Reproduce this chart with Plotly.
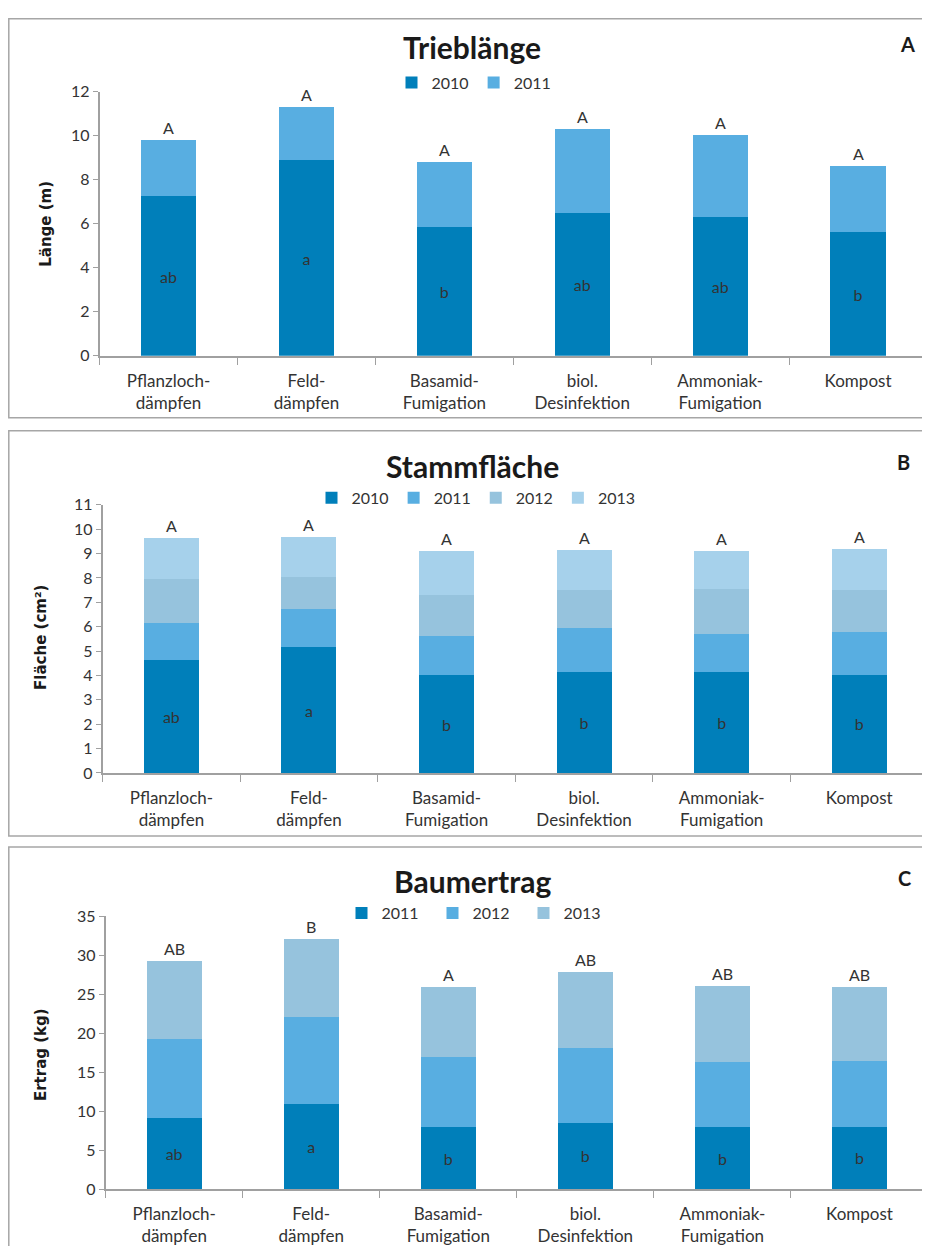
import plotly.graph_objects as go

categories = ["Pflanzloch-<br>dämpfen", "Feld-<br>dämpfen", "Basamid-<br>Fumigation",
              "biol.<br>Desinfektion", "Ammoniak-<br>Fumigation", "Kompost"]

# Panel A: Trieblänge (m)
a_2010 = [7.25, 8.88, 5.84, 6.49, 6.33, 5.61]
a_2011 = [2.55, 2.42, 2.96, 3.81, 3.72, 3.01]
a_lower = ["ab", "a", "b", "ab", "ab", "b"]
a_upper = ["A", "A", "A", "A", "A", "A"]

# Panel B: Stammfläche (cm²)
b_2010 = [4.63, 5.16, 4.00, 4.15, 4.14, 4.02]
b_2011 = [1.54, 1.55, 1.64, 1.78, 1.58, 1.75]
b_2012 = [1.77, 1.35, 1.66, 1.57, 1.82, 1.72]
b_2013 = [1.69, 1.61, 1.80, 1.64, 1.56, 1.68]
b_lower = ["ab", "a", "b", "b", "b", "b"]
b_upper = ["A", "A", "A", "A", "A", "A"]

# Panel C: Baumertrag (kg)
c_2011 = [9.1, 10.9, 7.9, 8.5, 7.9, 8.0]
c_2012 = [10.1, 11.1, 9.0, 9.6, 8.45, 8.4]
c_2013 = [10.05, 10.05, 8.95, 9.7, 9.7, 9.5]
c_lower = ["ab", "a", "b", "b", "b", "b"]
c_upper = ["AB", "B", "A", "AB", "AB", "AB"]

C_DARK = "#007FBA"
C_MID = "#58AEE1"
C_GREY = "#96C3DD"
C_LIGHT = "#A6D1EB"

# page placement calibration (body margin / screenshot scaling)
OX, OY, SY = 8, 18.6, 0.9844
W, H = 922, 1248
FONT = "Lato, 'Open Sans', sans-serif"
TXT = "#333333"

fig = go.Figure()

panels = [
    dict(ax="", leg="legend", series=[("2010", a_2010, C_DARK), ("2011", a_2011, C_MID)],
         lower=a_lower, upper=a_upper, yr=[0, 12], dtick=2,
         xpx=(99.6, 927), ypx=(356, 92), title="Trieblänge", letter="A",
         title_y=47, letter_xy=(907, 44), ytitle="Länge (m)", ytitle_xy=(46, 224),
         leg_x=474, leg_y=83, entryw=None),
    dict(ax="2", leg="legend2", series=[("2010", b_2010, C_DARK), ("2011", b_2011, C_MID),
                                        ("2012", b_2012, C_GREY), ("2013", b_2013, C_LIGHT)],
         lower=b_lower, upper=b_upper, yr=[0, 11], dtick=1,
         xpx=(102.6, 928), ypx=(773, 505), title="Stammfläche", letter="B",
         title_y=466, letter_xy=(903, 462), ytitle="Fläche (cm²)", ytitle_xy=(41, 638),
         leg_x=476, leg_y=498, entryw=None),
    dict(ax="3", leg="legend3", series=[("2011", c_2011, C_DARK), ("2012", c_2012, C_MID),
                                        ("2013", c_2013, C_GREY)],
         lower=c_lower, upper=c_upper, yr=[0, 35], dtick=5,
         xpx=(105.6, 928), ypx=(1189, 916), title="Baumertrag", letter="C",
         title_y=881, letter_xy=(904, 878), ytitle="Ertrag (kg)", ytitle_xy=(41, 1055),
         leg_x=478, leg_y=913, entryw=46),
]

def fx(t):
    return t - OX

def fy(t):
    return t / SY - OY

def px_x(t):
    return fx(t) / W

def px_y(t):
    return 1 - fy(t) / H

annotations = []
shapes = []
layout_upd = {}

for p in panels:
    xa = "x" + p["ax"]
    ya = "y" + p["ax"]
    totals = [0.0] * len(categories)
    for i, (name, vals, col) in enumerate(p["series"]):
        kw = {}
        if i == 0:
            kw = dict(text=p["lower"], textposition="inside", insidetextanchor="middle",
                      textangle=0, textfont=dict(size=16, color=TXT, family=FONT))
        fig.add_trace(go.Bar(x=categories, y=vals, name=name, marker=dict(color=col, line=dict(width=0)),
                             xaxis=xa, yaxis=ya, legend=p["leg"], hoverinfo="skip", **kw))
        totals = [t + v for t, v in zip(totals, vals)]
    for c, t, u in zip(categories, totals, p["upper"]):
        annotations.append(dict(x=c, y=t, xref=xa, yref=ya, text=u, showarrow=False,
                                xanchor="center", yanchor="bottom", yshift=1,
                                font=dict(size=16, color=TXT, family=FONT)))
    key = p["ax"]
    layout_upd["xaxis" + key] = dict(
        domain=[px_x(p["xpx"][0]), min(1.0, px_x(p["xpx"][1]))], anchor=ya,
        showline=True, linecolor="#A0A0A0", linewidth=1.5, ticks="outside", tickson="boundaries",
        ticklen=7, tickcolor="#A0A0A0", tickwidth=1.2, showgrid=False, ticklabelstandoff=9,
        tickfont=dict(size=17, color=TXT, family=FONT), fixedrange=True)
    layout_upd["yaxis" + key] = dict(
        domain=[px_y(p["ypx"][0]), px_y(p["ypx"][1])], anchor=xa, range=p["yr"], dtick=p["dtick"],
        showline=True, linecolor="#A0A0A0", linewidth=1.5, ticks="outside", ticklen=5,
        tickcolor="#A0A0A0", showgrid=False, zeroline=False,
        tickfont=dict(size=16, color=TXT, family=FONT), fixedrange=True)
    leg = dict(orientation="h", x=px_x(p["leg_x"]), y=px_y(p["leg_y"]), xanchor="center",
               yanchor="middle", traceorder="normal", itemwidth=30,
               font=dict(size=16, color=TXT, family=FONT), bgcolor="rgba(0,0,0,0)")
    if p["entryw"]:
        leg["entrywidth"] = p["entryw"]
        leg["entrywidthmode"] = "pixels"
    layout_upd[p["leg"]] = leg
    annotations.append(dict(x=px_x(472), y=px_y(p["title_y"]), xref="paper", yref="paper",
                            xanchor="center", yanchor="middle",
                            text="<b>" + p["title"] + "</b>", showarrow=False,
                            font=dict(size=30, color="#1a1a1a", family=FONT)))
    annotations.append(dict(x=px_x(p["letter_xy"][0]), y=px_y(p["letter_xy"][1]), xref="paper", yref="paper",
                            xanchor="center", yanchor="middle",
                            text="<b>" + p["letter"] + "</b>", showarrow=False,
                            font=dict(size=20, color="#1a1a1a", family=FONT)))
    annotations.append(dict(x=px_x(p["ytitle_xy"][0]), y=px_y(p["ytitle_xy"][1]), xref="paper", yref="paper",
                            xanchor="center", yanchor="middle",
                            text="<b>" + p["ytitle"] + "</b>", showarrow=False, textangle=-90,
                            font=dict(size=15, color="#1a1a1a", family="DejaVu Sans")))

for (top, bot) in [(13, 418), (431, 836), (847, 1300)]:
    y_top = min(px_y(top), 1 - 0.8 / H)
    shapes.append(dict(type="rect", xref="paper", yref="paper", x0=0.8 / W, x1=px_x(945),
                       y0=px_y(bot), y1=y_top, line=dict(color="#A6A6A6", width=1.5),
                       fillcolor="rgba(0,0,0,0)", layer="below"))

fig.update_layout(
    width=W, height=H, autosize=False, margin=dict(l=0, r=0, t=0, b=0),
    paper_bgcolor="white", plot_bgcolor="white", barmode="stack", bargap=0.6,
    annotations=annotations, shapes=shapes, font=dict(family=FONT, color=TXT),
    **layout_upd,
)

fig.write_html("out.html")
